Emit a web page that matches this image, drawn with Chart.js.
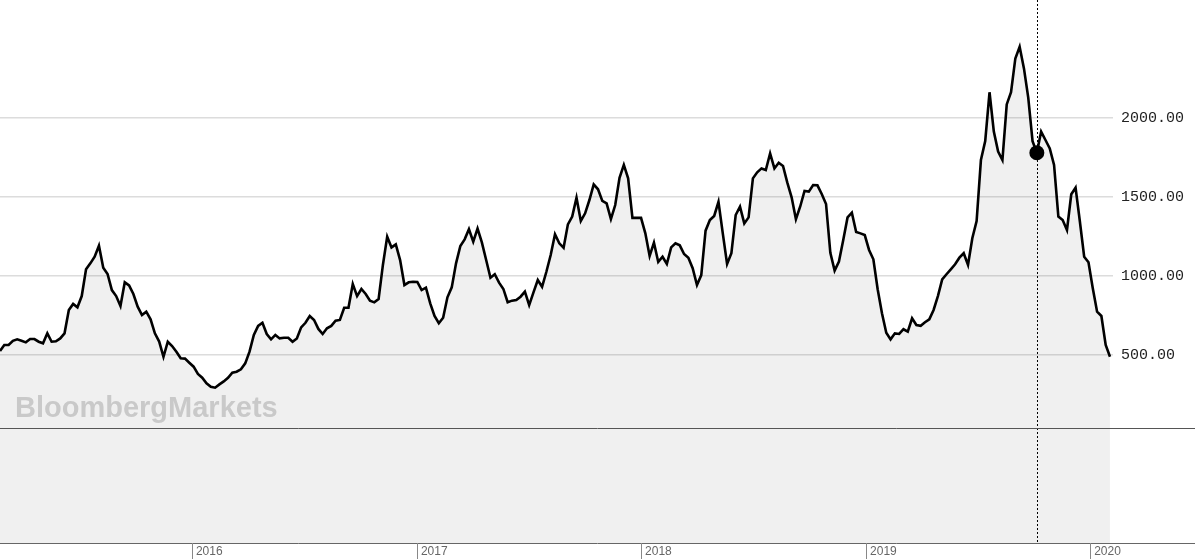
<!DOCTYPE html>
<html>
<head>
<meta charset="utf-8">
<script src="https://cdn.jsdelivr.net/npm/chart.js@4.4.1/dist/chart.umd.min.js"></script>
<style>
    html, body { margin: 0; padding: 0; background: #fff; overflow: hidden; }
    #wrap { position: relative; width: 1195px; height: 559px; }
</style>
</head>
<body>
<div id="wrap"><canvas id="bdiChart"></canvas></div>
<script>
// weekly closes (late Feb 2015 -> end Jan 2020)
const bdiValues = [
    525, 563, 563, 590, 599, 590, 580, 601, 601, 584, 574, 637, 584, 587, 605, 637, 785, 823, 802, 873,
    1042, 1080, 1122, 1192, 1053, 1013, 911, 873, 810, 960, 941, 886, 806, 753, 774, 726, 637, 585,
    489, 584, 557, 521, 479, 477, 451, 426, 380, 356, 321, 299, 293, 314, 333, 356, 388, 394, 409, 447,
    521, 627, 684, 704, 633, 599, 627, 605, 609, 609, 584, 605, 675, 704, 747, 722, 665,
    633, 669, 684, 717, 722, 799, 799, 949, 873, 918, 886, 844, 833, 854, 1070, 1249, 1181, 1200, 1101,
    943, 960, 964, 962, 911, 926, 827, 747, 701, 736, 865, 928, 1080, 1190, 1232, 1296, 1217, 1300,
    1213, 1101, 989, 1011, 958, 918, 834, 844, 848, 869, 901, 816, 896, 975, 932, 1027, 1133, 1264,
    1207, 1179, 1327, 1376, 1496, 1348, 1397, 1481, 1580, 1549, 1475, 1460, 1360, 1449, 1622, 1703,
    1618, 1368, 1368,
    1368, 1270, 1127, 1211, 1089, 1122, 1076, 1181, 1207, 1194, 1139, 1116, 1049, 943, 1006, 1287,
    1354, 1380, 1470, 1270, 1076, 1144, 1386, 1439, 1333, 1371, 1618, 1656, 1681, 1671, 1776, 1681,
    1717, 1696, 1591, 1498, 1359,
    1440, 1538, 1534, 1576, 1574, 1519, 1456, 1147, 1034, 1091, 1228, 1371, 1401, 1279, 1270, 1259,
    1165, 1106, 916, 764, 641, 599, 637, 633, 663, 648, 732, 690, 685, 707, 726, 785, 873, 979, 1011,
    1042, 1074, 1116,
    1144, 1070, 1239, 1348, 1734, 1854, 2163, 1914, 1788, 1734, 2086, 2163, 2377, 2451, 2314, 2129,
    1854, 1780, 1914, 1861, 1808, 1703, 1376, 1354, 1291, 1517, 1559, 1345, 1122, 1087, 922, 774,
    747, 563, 489
];

const yearLabels = ['2016', '2017', '2018', '2019', '2020'];
const yearTickWeeks = [44.6, 96.9, 149.0, 201.3, 253.4];
const yTickValues = [500, 1000, 1500, 2000];
const markerWeek = 241;     // hover crosshair position
const paneSplitValue = 38;  // line between price pane and lower pane

// keep the plot area flush with the canvas edges
function noScalePadding(s) {
    s.paddingTop = 0;
    s.paddingBottom = 0;
    s.paddingLeft = 0;
    s.paddingRight = 0;
}

const bloombergDecor = {
    id: 'bloombergDecor',
    beforeDatasetsDraw(chart) {
        const ctx = chart.ctx;
        const area = chart.chartArea;
        const xPx = Math.round(chart.scales.x.getPixelForValue(markerWeek)) + 0.5;
        ctx.save();
        ctx.strokeStyle = '#000';
        ctx.lineWidth = 1;
        ctx.setLineDash([2, 2]);
        ctx.beginPath();
        ctx.moveTo(xPx, 0);
        ctx.lineTo(xPx, area.bottom);
        ctx.stroke();
        ctx.restore();
    },
    afterDraw(chart) {
        const ctx = chart.ctx;
        const area = chart.chartArea;
        const w = chart.width;
        const h = chart.height;
        const splitY = Math.round(chart.scales.y.getPixelForValue(paneSplitValue)) + 0.5;

        ctx.save();
        // watermark
        ctx.fillStyle = '#c9c9c9';
        ctx.font = 'bold 29px "Liberation Sans", Arial, sans-serif';
        ctx.textBaseline = 'alphabetic';
        ctx.fillText('BloombergMarkets', 15, 417);

        // pane separator and bottom axis line
        ctx.strokeStyle = '#555';
        ctx.lineWidth = 1;
        ctx.beginPath();
        ctx.moveTo(0, splitY);
        ctx.lineTo(w, splitY);
        ctx.stroke();

        ctx.strokeStyle = '#666';
        ctx.beginPath();
        ctx.moveTo(0, Math.round(area.bottom) + 0.5);
        ctx.lineTo(w, Math.round(area.bottom) + 0.5);
        ctx.stroke();

        // year tick marks
        ctx.strokeStyle = '#888';
        yearTickWeeks.forEach(wk => {
            const x = Math.round(chart.scales.x.getPixelForValue(wk)) + 0.5;
            ctx.beginPath();
            ctx.moveTo(x, area.bottom);
            ctx.lineTo(x, h);
            ctx.stroke();
        });
        ctx.restore();
    }
};

const ctx = document.getElementById('bdiChart').getContext('2d');
new Chart(ctx, {
    type: 'line',
    data: {
        datasets: [{
            data: bdiValues.map((v, i) => ({ x: i, y: v })),
            borderColor: '#000',
            borderWidth: 2.6,
            backgroundColor: 'rgba(0, 0, 0, 0.06)',
            fill: 'start',
            tension: 0,
            pointRadius: 0,
            pointHoverRadius: 0
        }, {
            data: [{ x: markerWeek, y: bdiValues[markerWeek] }],
            showLine: false,
            pointRadius: 7.5,
            pointBackgroundColor: '#000',
            pointBorderColor: '#000',
            pointBorderWidth: 0,
            fill: false
        }]
    },
    options: {
        responsive: true,
        maintainAspectRatio: false,
        animation: false,
        events: [],
        layout: { padding: 0, autoPadding: false },
        plugins: { legend: { display: false }, tooltip: { enabled: false } },
        scales: {
            x: {
                type: 'linear',
                min: 0,
                max: 258.7,
                afterBuildTicks: s => { s.ticks = yearTickWeeks.map(v => ({ value: v })); },
                afterFit: s => { s.height = 16; noScalePadding(s); },
                border: { display: false },
                grid: { display: false, drawTicks: false },
                ticks: {
                    autoSkip: false,
                    maxRotation: 0,
                    align: 'start',
                    labelOffset: 4,
                    padding: 1,
                    color: '#666',
                    font: { family: '"Liberation Sans", Arial, sans-serif', size: 12 },
                    callback: (v, i) => yearLabels[i]
                }
            },
            y: {
                position: 'right',
                min: -690,
                max: 2747,
                afterBuildTicks: s => { s.ticks = yTickValues.map(v => ({ value: v })); },
                afterFit: s => { s.width = 82; noScalePadding(s); },
                border: { display: false },
                grid: { color: '#dcdcdc', lineWidth: 1.5, drawTicks: false },
                ticks: {
                    padding: 8,
                    color: '#222',
                    font: { family: '"Liberation Mono", "Courier New", monospace', size: 15 },
                    callback: v => Number(v).toFixed(2)
                }
            }
        }
    },
    plugins: [bloombergDecor]
});
</script>
</body>
</html>
